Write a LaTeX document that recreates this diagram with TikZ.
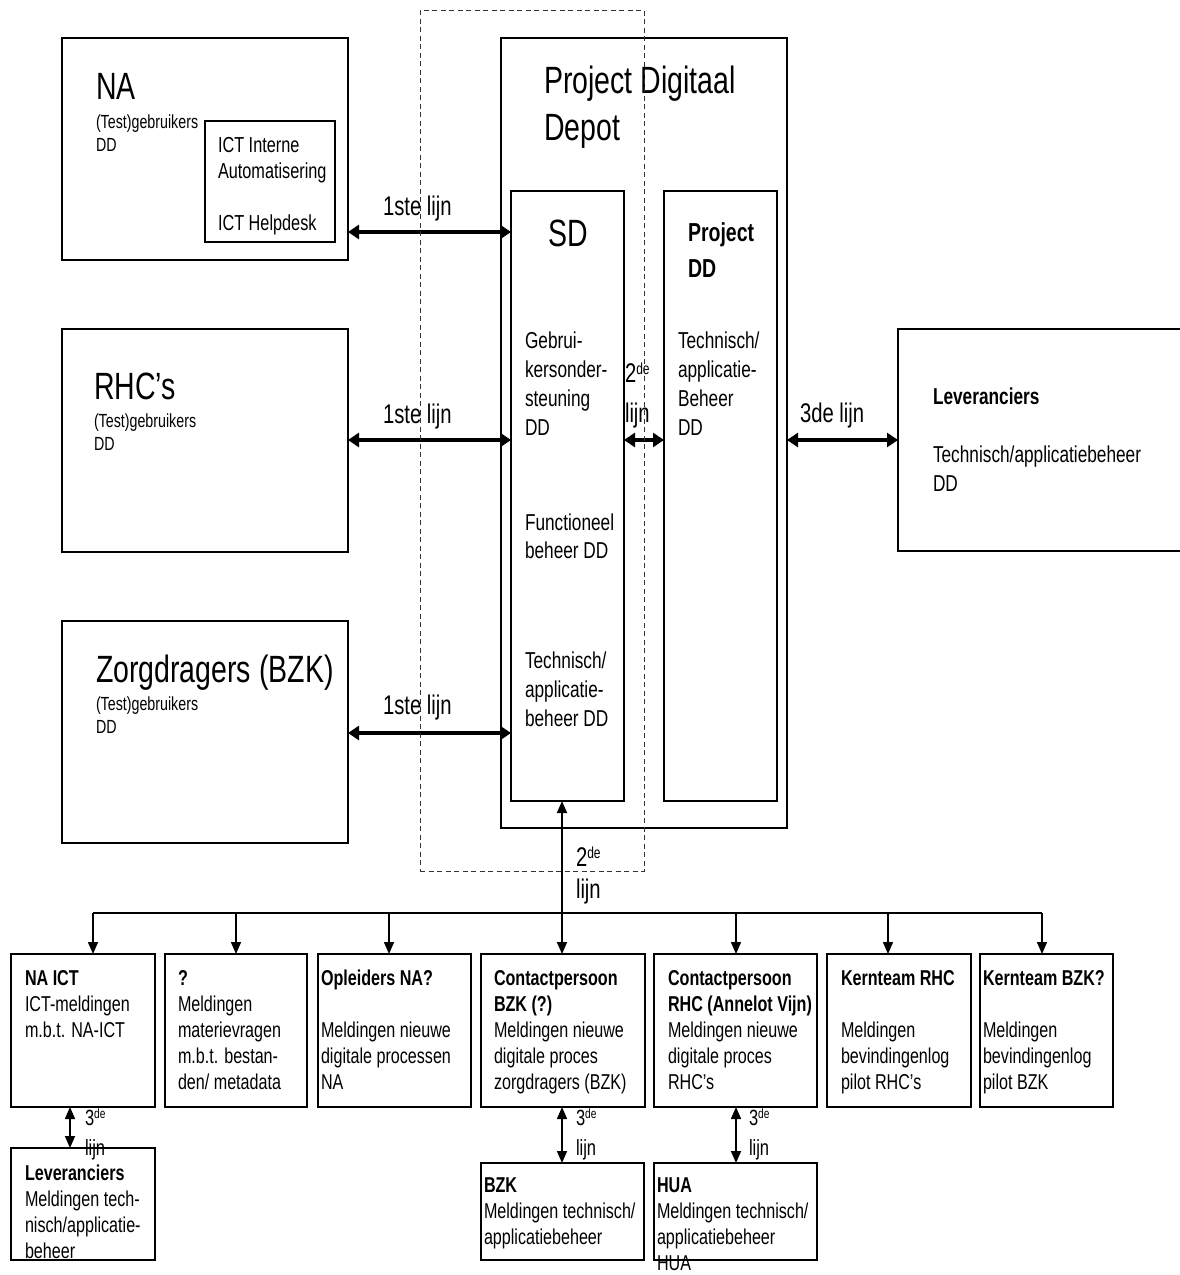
\documentclass[tikz,border=0pt]{standalone}
\usepackage{fontspec}
\setmainfont[FakeStretch=0.75]{Liberation Sans}
\usetikzlibrary{arrows.meta}

% type sizes (1pt = 1 unit of the drawing)
\newcommand\fbig{\fontsize{38}{47}\selectfont}
\newcommand\fmed{\fontsize{23}{29}\selectfont}
\newcommand\fsml{\fontsize{19}{23}\selectfont}
\newcommand\fict{\fontsize{21.7}{26}\selectfont}
\newcommand\fbot{\fontsize{21.5}{26}\selectfont}
% left-aligned block of lines; its baseline is that of the first line
\newcommand\stack[1]{\vtop{\halign{##\hfil\cr#1\crcr}}}
% raised small text: size, raise, text
\newcommand\supr[3]{\raisebox{#2pt}{\fontsize{#1}{#1}\selectfont #3}}
% rectangle node from its corners: [style]{name}{x1}{y1}{x2}{y2}
\newcommand\bx[6][]{\node[box,#1,minimum width={(#5-#3)*1pt},minimum height={(#6-#4)*1pt}] (#2) at (#3,#4) {};}

\begin{document}
\begin{tikzpicture}[x=1pt,y=-1pt,
  box/.style={draw=black,line width=1.2pt,inner sep=0pt,outer sep=0pt,anchor=north west},
  frame/.style={draw=black!80,line width=1pt,dash pattern=on 5pt off 3.5pt},
  txt/.style={anchor=base west,inner sep=0pt,outer sep=0pt},
  bigarr/.style={line width=3.2pt,{Triangle[length=11pt,width=14pt]}-{Triangle[length=11pt,width=14pt]}},
  busline/.style={line width=1.4pt},
  downarr/.style={line width=1.4pt,-{Triangle[length=12pt,width=10pt]}},
  duoarr/.style={line width=1.6pt,{Triangle[length=12pt,width=10pt]}-{Triangle[length=12pt,width=10pt]}}
]
\useasboundingbox (0,0) rectangle (1180,1275);
\clip (0,0) rectangle (1180,1275);
\fill[white] (0,0) rectangle (1180,1275);

% ---- upper boxes
\bx{na}{62}{38}{348}{260}
\bx{ict}{205}{121}{335}{242}
\bx{rhc}{62}{329}{348}{552}
\bx{zorg}{62}{621}{348}{843}
\bx{pdd}{501}{38}{787}{828}
\bx{sd}{511}{191}{624}{801}
\bx{pdd2}{664}{191}{777}{801}
\bx{lev}{898}{329}{1194}{551}

% ---- lower boxes
\bx{naict}{11}{954}{155}{1107}
\bx{q}{165}{954}{307}{1107}
\bx{opl}{318}{954}{471}{1107}
\bx{cbzk}{481}{954}{645}{1107}
\bx{crhc}{654}{954}{817}{1107}
\bx{krhc}{827}{954}{971}{1107}
\bx{kbzk}{980}{954}{1113}{1107}
\bx{levb}{11}{1148}{155}{1260}
\bx{bzk}{481}{1163}{644}{1260}
\bx{hua}{654}{1163}{817}{1260}

% ---- texts, upper part
\node[txt,font=\fbig] (tna) at (96,99) {NA};
\node[txt,font=\fsml] (tna2) at (96,128) {\stack{(Test)gebruikers\cr DD}};
\node[txt,font=\fict] (tict) at (218,152) {\stack{ICT Interne\cr Automatisering\cr\cr ICT Helpdesk}};
\node[txt,font=\fbig] (trhc) at (94,399) {RHC’s};
\node[txt,font=\fsml] (trhc2) at (94,427) {\stack{(Test)gebruikers\cr DD}};
\node[txt,font=\fbig] (tzorg) at (96,682) {Zorgdragers (BZK)};
\node[txt,font=\fsml] (tzorg2) at (96,710) {\stack{(Test)gebruikers\cr DD}};
\node[txt,font=\fbig] (tpdd) at (544,93) {\stack{Project Digitaal\cr Depot}};
\node[anchor=base,inner sep=0pt,font=\fbig] (tsd) at (568,246) {SD};
\node[txt,font=\fmed] (tsd1) at (525,348) {\stack{Gebrui-\cr kersonder-\cr steuning\cr DD}};
\node[txt,font=\fontsize{23}{28}\selectfont] (tsd2) at (525,530) {\stack{Functioneel\cr beheer DD}};
\node[txt,font=\fmed] (tsd3) at (525,668) {\stack{Technisch/\cr applicatie-\cr beheer DD}};
\node[txt,font=\fontsize{26}{36}\selectfont\bfseries] (tpd) at (688,241) {\stack{Project\cr DD}};
\node[txt,font=\fmed] (tpd2) at (678,348) {\stack{Technisch/\cr applicatie-\cr Beheer\cr DD}};
\node[txt,font=\fmed\bfseries] (tlev) at (933,404) {Leveranciers};
\node[txt,font=\fontsize{23}{29.5}\selectfont] (tlev2) at (933,462) {\stack{Technisch/applicatiebeheer\cr DD}};

% ---- texts, lower part
\node[txt,font=\fbot] (tb1) at (25,985) {\stack{\textbf{NA ICT}\cr ICT-meldingen\cr m.b.t. NA-ICT}};
\node[txt,font=\fbot] (tb2) at (178,985) {\stack{\textbf{?}\cr Meldingen\cr materievragen\cr m.b.t. bestan-\cr den/ metadata}};
\node[txt,font=\fbot] (tb3) at (321,985) {\stack{\textbf{Opleiders NA?}\cr\cr Meldingen nieuwe\cr digitale processen\cr NA}};
\node[txt,font=\fbot] (tb4) at (494,985) {\stack{\textbf{Contactpersoon}\cr \textbf{BZK (?)}\cr Meldingen nieuwe\cr digitale proces\cr zorgdragers (BZK)}};
\node[txt,font=\fbot] (tb5) at (668,985) {\stack{\textbf{Contactpersoon}\cr \textbf{RHC (Annelot Vijn)}\cr Meldingen nieuwe\cr digitale proces\cr RHC’s}};
\node[txt,font=\fbot] (tb6) at (841,985) {\stack{\textbf{Kernteam RHC}\cr\cr Meldingen\cr bevindingenlog\cr pilot RHC’s}};
\node[txt,font=\fbot] (tb7) at (983,985) {\stack{\textbf{Kernteam BZK?}\cr\cr Meldingen\cr bevindingenlog\cr pilot BZK}};
\node[txt,font=\fbot] (tb8) at (25,1180) {\stack{\textbf{Leveranciers}\cr Meldingen tech-\cr nisch/applicatie-\cr beheer}};
\node[txt,font=\fbot] (tb9) at (484,1192) {\stack{\textbf{BZK}\cr Meldingen technisch/\cr applicatiebeheer}};
\node[txt,font=\fbot] (tb10) at (657,1192) {\stack{\textbf{HUA}\cr Meldingen technisch/\cr applicatiebeheer\cr HUA}};

% ---- connectors, upper part
\coordinate (l1) at (0,232);
\coordinate (l2) at (0,440);
\coordinate (l3) at (0,733);
\draw[bigarr] (na.east |- l1) -- (sd.west |- l1);
\draw[bigarr] (rhc.east |- l2) -- (sd.west |- l2);
\draw[bigarr] (zorg.east |- l3) -- (sd.west |- l3);
\draw[bigarr] (sd.east |- l2) -- (pdd2.west |- l2);
\draw[bigarr] (pdd.east |- l2) -- (lev.west |- l2);

% ---- connectors, lower part
\coordinate (v) at (562,0);
\draw[duoarr,line width=1.8pt] (sd.south -| v) -- (cbzk.north -| v);
\coordinate (b1) at (93,913);
\coordinate (b2) at (236,913);
\coordinate (b3) at (389,913);
\coordinate (b5) at (736,913);
\coordinate (b6) at (888,913);
\coordinate (b7) at (1042,913);
\draw[busline] (b1) -- (b7);
\draw[downarr] (b1) -- (b1 |- naict.north);
\draw[downarr] (b2) -- (b2 |- q.north);
\draw[downarr] (b3) -- (b3 |- opl.north);
\draw[downarr] (b5) -- (b5 |- crhc.north);
\draw[downarr] (b6) -- (b6 |- krhc.north);
\draw[downarr] (b7) -- (b7 |- kbzk.north);
\coordinate (w1) at (70,0);
\coordinate (w3) at (736,0);
\draw[duoarr] (naict.south -| w1) -- (levb.north -| w1);
\draw[duoarr] (cbzk.south -| v) -- (bzk.north -| v);
\draw[duoarr] (crhc.south -| w3) -- (hua.north -| w3);

% ---- connector labels
\node[txt,font=\fontsize{27}{32}\selectfont] (k1) at (383,215) {1ste lijn};
\node[txt,font=\fontsize{27}{32}\selectfont] (k2) at (383,423) {1ste lijn};
\node[txt,font=\fontsize{27}{32}\selectfont] (k3) at (383,714) {1ste lijn};
\node[txt,font=\fontsize{27}{40}\selectfont] (k4) at (625,382) {\stack{2\supr{16}{8}{de}\cr lijn}};
\node[txt,font=\fontsize{27}{32}\selectfont] (k5) at (800,422) {3de lijn};
\node[txt,font=\fontsize{27}{32}\selectfont] (k6) at (576,866) {\stack{2\supr{16}{8}{de}\cr lijn}};
\node[txt,font=\fontsize{22}{30}\selectfont] (k7) at (85,1125) {\stack{3\supr{13.5}{6.5}{de}\cr lijn}};
\node[txt,font=\fontsize{22}{30}\selectfont] (k8) at (576,1125) {\stack{3\supr{13.5}{6.5}{de}\cr lijn}};
\node[txt,font=\fontsize{22}{30}\selectfont] (k9) at (749,1125) {\stack{3\supr{13.5}{6.5}{de}\cr lijn}};

% ---- dashed grouping frame
\bx[frame]{grp}{420}{10}{644}{871}
\end{tikzpicture}
\end{document}
